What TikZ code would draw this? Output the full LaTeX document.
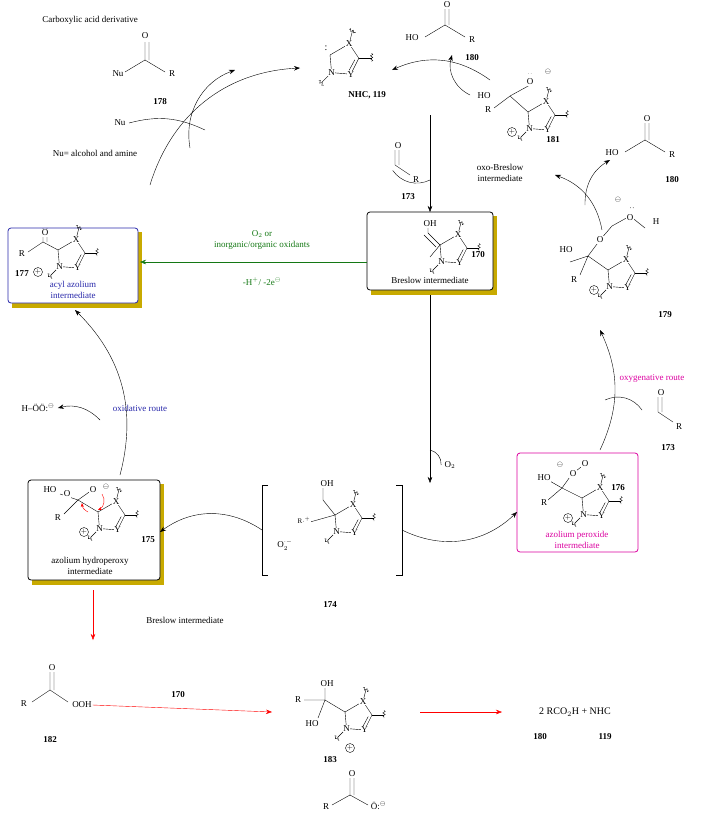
\documentclass[tikz,border=0pt]{standalone}
\usepackage{fontspec}
\setmainfont{Liberation Serif}
\usetikzlibrary{arrows.meta,positioning,decorations.pathmorphing,calc}
\definecolor{boxblue}{RGB}{40,40,170}
\definecolor{routegreen}{RGB}{20,120,20}
\definecolor{routepink}{RGB}{220,0,160}
\definecolor{shadowgold}{RGB}{200,170,0}
\tikzset{
    lbl/.style={fill=white, inner sep=0.6pt, font=\small},
    num/.style={font=\small\bfseries},
    txt/.style={font=\small, align=center},
    arrow/.style={-{Stealth[length=6pt]}, thin},
    redarrow/.style={-{Stealth[length=6pt]}, thin, red},
    plus/.style={circle, draw, inner sep=0pt, minimum size=9pt, font=\scriptsize},
    wig/.style={decorate, decoration={snake, amplitude=1.2pt, segment length=3pt}},
    stepbox/.style={draw, thick, rounded corners=3pt},
    pics/azole/.style={code={
        \draw (0,0)--(24,-14)--(36,4)--(26,24)--(2,22)--cycle;
        \draw (31,6)--(24,19);
        \draw (24,-14)--(28,-30);
        \draw[wig] (24,-32)--(32,-28);
        \draw (36,4)--(52,4);
        \draw[wig] (52,-2)--(52,8);
        \draw (2,22)--(-10,34);
        \draw[wig] (-14,32)--(-8,38);
        \node[lbl] at (24,-14) {X};
        \node[lbl] at (26,24) {Y};
        \node[lbl] at (2,22) {N};
    }},
}
\begin{document}
\begin{tikzpicture}[x=1pt, y=-1pt]
    \useasboundingbox (0,0) rectangle (709,827);

    % boxes with shadow
    \fill[shadowgold] (12,232) rectangle (142,308);
    \draw[stepbox, boxblue, fill=white] (8,228) rectangle (138,303);
    \fill[shadowgold] (371,216) rectangle (497,295);
    \draw[stepbox, fill=white] (367,212) rectangle (493,290);
    \fill[shadowgold] (32,484) rectangle (164,585);
    \draw[stepbox, fill=white] (28,480) rectangle (160,580);
    \draw[stepbox, routepink, fill=white] (517,453) rectangle (638,552);

    % NHC 119
    \pic[scale=0.8] at (330,55) {azole};
    \node at (326,48) {:};
    \node[num] (nhc) at (367,95) {NHC, 119};
    \coordinate (nhcL) at (300,68);
    \coordinate (nhcR) at (392,70);
    \coordinate (nhcB) at (430,115);

    % 178
    \draw (145,60)--(125,72) (145,60)--(165,72) (145,60)--(145,42) (149,60)--(149,42);
    \node[lbl] at (145,36) {O};
    \node[lbl] at (118,74) {Nu};
    \node[lbl] at (172,74) {R};
    \node[num] (n178) at (160,102) {178};
    \node[txt] (carbox) at (90,20) {Carboxylic acid derivative};
    \node[txt] (nudef) at (95,153) {Nu= alcohol and amine};
    \node[txt] (nu) at (120,123) {Nu};

    % 180 top
    \draw (445,25)--(425,37) (445,25)--(465,37) (445,25)--(445,8) (449,25)--(449,8);
    \node[lbl] at (447,5) {O};
    \node[lbl] at (412,38) {HO};
    \node[lbl] at (472,40) {R};
    \node[num] (n180a) at (472,58) {180};

    % 181
    \pic[scale=0.75] at (528,112) {azole};
    \draw (528,112)--(510,96) (510,96)--(530,85) (510,96)--(494,108);
    \node[lbl] at (530,82) {O};
    \node[font=\tiny] at (530,74) {$\cdot\cdot$};
    \node[lbl] at (484,96) {HO};
    \node[lbl] at (488,110) {R};
    \node[plus] at (512,132) {$+$};
    \node[font=\scriptsize] at (548,72) {$\ominus$};
    \node[num] (n181) at (553,140) {181};
    \node[txt] (oxob) at (500,173) {oxo-Breslow\\intermediate};

    % 180 right
    \draw (645,140)--(625,152) (645,140)--(665,152) (645,140)--(645,123) (649,140)--(649,123);
    \node[lbl] at (647,119) {O};
    \node[lbl] at (612,153) {HO};
    \node[lbl] at (672,155) {R};
    \node[num] (n180b) at (672,180) {180};

    % 173 top
    \draw (395,165)--(410,175) (395,165)--(395,150) (399,165)--(399,150);
    \node[lbl] at (398,146) {O};
    \node[lbl] at (416,180) {R};
    \node[num] (n173a) at (408,197) {173};

    % 177
    \pic[scale=0.75] at (58,250) {azole};
    \draw (58,250)--(43,242) (43,242)--(43,228) (47,242)--(47,228) (43,242)--(28,252);
    \node[lbl] at (45,233) {O};
    \node[lbl] at (22,254) {R};
    \node[plus] at (38,272) {$+$};
    \node[num] (n177) at (22,274) {177};
    \node[txt, text=boxblue] at (73,290) {acyl azolium\\intermediate};

    % 170
    \pic[scale=0.75] at (440,245) {azole};
    \draw (440,245)--(428,233) (436,247)--(424,235) (428,233)--(428,228);
    \node[lbl] at (430,224) {OH};
    \draw (440,245)--(430,257);
    \node[num] (n170) at (478,255) {170};
    \node[txt] at (430,280) {Breslow intermediate};

    % oxidant step
    \node[txt, text=routegreen] at (262,240) {O$_2$ or\\inorganic/organic oxidants};
    \node[txt, text=routegreen] at (262,282) {-H$^+$/ -2e$^{\ominus}$};

    % 179
    \pic[scale=0.75] at (608,270) {azole};
    \draw (608,270)--(588,256) (588,256)--(570,262) (588,256)--(580,275) (588,256)--(600,240)--(612,226)--(630,216)--(645,228);
    \node[lbl] at (566,250) {HO};
    \node[lbl] at (574,280) {R};
    \node[lbl] at (600,240) {O};
    \node[lbl] at (630,218) {O};
    \node[lbl] at (632,208) {$\cdot\cdot$};
    \node[lbl] at (656,222) {H};
    \node[font=\scriptsize] at (618,200) {$\ominus$};
    \node[plus] at (594,290) {$+$};
    \node[num] (n179) at (665,315) {179};

    \node[txt, text=routepink] (oxyroute) at (652,378) {oxygenative route};

    % 173 right
    \draw (658,412)--(673,422) (658,412)--(658,397) (662,412)--(662,397);
    \node[lbl] at (661,393) {O};
    \node[lbl] at (679,427) {R};
    \node[num] (n173b) at (668,448) {173};

    % 176
    \pic[scale=0.75] at (582,498) {azole};
    \draw (582,498)--(562,488) (562,488)--(548,480) (562,488)--(548,500) (562,488)--(572,474)--(585,464);
    \node[lbl] at (544,478) {HO};
    \node[lbl] at (544,503) {R};
    \node[lbl] at (573,474) {O};
    \node[lbl] at (585,464) {O};
    \node[font=\scriptsize] at (560,465) {$\ominus$};
    \node[plus] at (568,518) {$+$};
    \node[num] (n176) at (618,488) {176};
    \node[txt, text=routepink] at (577,540) {azolium peroxide\\intermediate};

    % 175
    \pic[scale=0.75] at (98,512) {azole};
    \draw (98,512)--(78,500) (78,500)--(60,494) (78,500)--(64,514) (78,500)--(92,490);
    \node[lbl] at (50,490) {HO};
    \node[lbl] at (67,494) {O};
    \node[lbl] at (93,490) {O};
    \node[lbl] at (58,518) {R};
    \node[font=\scriptsize] at (106,487) {$\ominus$};
    \draw[red, -{Stealth[length=4pt]}] (102,494) to[bend left=50] (98,510);
    \draw[red, -{Stealth[length=4pt]}] (88,512) to[bend left=30] (82,503);
    \node[plus] at (84,532) {$+$};
    \node[num] (n175) at (148,540) {175};
    \node[txt] at (90,566) {azolium hydroperoxy\\intermediate};

    % 174
    \draw (268,485)--(262,485)--(262,575)--(268,575);
    \draw (396,485)--(402,485)--(402,575)--(396,575);
    \pic[scale=0.75] at (335,515) {azole};
    \draw (335,515)--(323,500) (323,500)--(323,488) (335,515)--(310,522);
    \node[lbl] at (327,484) {OH};
    \node[lbl, font=\scriptsize] at (304,520) {R$\cdot$$^{+}$};
    \node[lbl] at (285,545) {O$_2^{\cdot-}$};
    \node[num] (n174) at (330,605) {174};
    \coordinate (b174W) at (262,530);
    \coordinate (b174E) at (402,530);
    \node[txt] (otwo) at (450,465) {O$_2$};

    % oxidative side
    \node[txt, text=boxblue] (oxroute) at (140,408) {oxidative route};
    \node[txt] (hoo) at (38,408) {H–\"O\"O:$^{\ominus}$};

    % bottom line
    \node[txt] at (185,620) {Breslow intermediate};
    \draw (50,690)--(32,702) (50,690)--(68,702) (50,690)--(50,672) (54,690)--(54,672);
    \node[lbl] at (52,668) {O};
    \node[lbl] at (24,704) {R};
    \node[lbl] (ooh) at (82,705) {OOH};
    \node[num] (n182) at (50,740) {182};
    \node[num] at (178,695) {170};
    \pic[scale=0.75] at (345,712) {azole};
    \draw (345,712)--(325,700) (325,700)--(325,688) (325,700)--(304,700) (325,700)--(318,718);
    \node[lbl] at (327,684) {OH};
    \node[lbl] at (298,700) {R};
    \node[lbl] at (312,724) {HO};
    \node[plus] at (350,748) {$+$};
    \node[num] (n183) at (330,760) {183};
    \draw (350,795)--(332,805) (350,795)--(368,805) (350,795)--(350,778) (354,795)--(354,778);
    \node[lbl] at (352,774) {O};
    \node[lbl] at (326,807) {R};
    \node[lbl, anchor=west] at (370,806) {\"O:$^{\ominus}$};
    \node[txt, font=\normalsize] (prod) at (575,712) {2 RCO$_2$H + NHC};
    \node[num] at (540,737) {180};
    \node[num] at (605,737) {119};

    % cycle arrows
    \draw[arrow] (nhcB) -- (430,212);
    \draw (n173a.north west) ++(-5,-20) to[bend right=40] (430,180);
    \draw[arrow] (430,295) -- (430,483);
    \draw (otwo.west) to[bend right=40] (430,450);
    \draw[arrow, routegreen] (367,262) -- (140,262);
    \draw[arrow] (b174W) to[bend right=35] (160,532);
    \draw[arrow] (b174E) to[bend right=35] (517,512);
    \draw[arrow] (600,450) to[bend right=25] (600,330);
    \draw (642,410) to[bend right=40] (605,400);
    \draw[arrow] (602,230) to[bend right=30] (555,175);
    \draw[arrow] (585,205) to[bend left=30] (610,160);
    \draw[arrow] (490,80) to[bend right=30] (nhcR);
    \draw[arrow] (470,95) to[bend left=40] (452,55);
    \draw[arrow] (120,475) to[bend right=30] (75,310);
    \draw[arrow] (100,420) to[bend right=30] (hoo.east);
    \draw[arrow] (150,185) to[bend left=35] (nhcL);
    \draw[arrow] (190,148) to[bend left=40] (235,70);
    \draw (nu.east) to[bend left=20] (205,130);
    \draw[redarrow] (93,590) -- (93,640);
    \draw[redarrow] (ooh.east) -- (272,712);
    \draw[redarrow] (420,712) -- (502,712);
\end{tikzpicture}
\end{document}
